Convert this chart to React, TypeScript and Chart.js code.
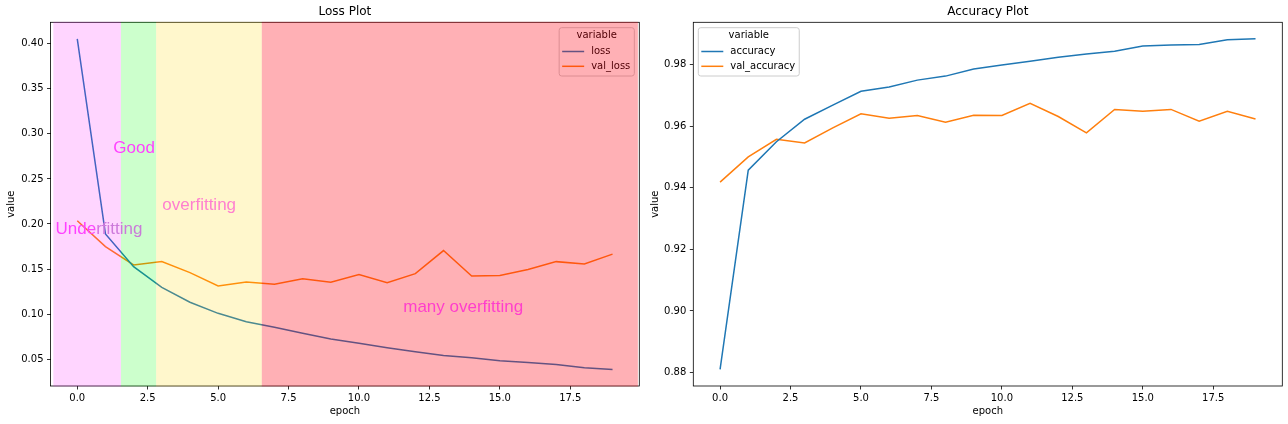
import React, { useEffect, useRef } from "react";
import { Chart, registerables } from "chart.js";

Chart.register(...registerables);

// ---------- data ----------
const epochs = [0, 1, 2, 3, 4, 5, 6, 7, 8, 9, 10, 11, 12, 13, 14, 15, 16, 17, 18, 19];
const loss = [0.4055, 0.189, 0.1526, 0.1297, 0.1131, 0.1008, 0.0915, 0.0853, 0.0786, 0.0722, 0.0675, 0.0626, 0.0581, 0.0541, 0.0515, 0.0481, 0.0463, 0.0441, 0.0403, 0.0385];
const valLoss = [0.2035, 0.1749, 0.1546, 0.1582, 0.146, 0.1312, 0.1357, 0.133, 0.1393, 0.1353, 0.1438, 0.1349, 0.1449, 0.1705, 0.1423, 0.1427, 0.1494, 0.1582, 0.1557, 0.1665];
const accuracy = [0.881, 0.9457, 0.9549, 0.9622, 0.9668, 0.9713, 0.9727, 0.9749, 0.9762, 0.9785, 0.9798, 0.981, 0.9823, 0.9834, 0.9843, 0.986, 0.9863, 0.9865, 0.988, 0.9883];
const valAccuracy = [0.9418, 0.95, 0.9557, 0.9545, 0.9594, 0.964, 0.9625, 0.9634, 0.9612, 0.9635, 0.9634, 0.9674, 0.9631, 0.9578, 0.9654, 0.9648, 0.9654, 0.9616, 0.9648, 0.9623];

const xTicks = [0, 2.5, 5, 7.5, 10, 12.5, 15, 17.5];
const lossYTicks = [0.05, 0.1, 0.15, 0.2, 0.25, 0.3, 0.35, 0.4];
const accYTicks = [0.88, 0.9, 0.92, 0.94, 0.96, 0.98];

const lossSpans = [
  { from: -0.85, to: 1.55, color: "rgba(255,0,255,0.165)" },
  { from: 1.55, to: 2.8, color: "rgba(0,255,0,0.2)" },
  { from: 2.8, to: 6.55, color: "rgba(255,215,0,0.2)" },
  { from: 6.55, to: 19.9, color: "rgba(255,0,15,0.31)" },
];

const lossNotes = [
  { text: "Underfitting", x: -0.77, y: 0.189, color: "grad" },
  { text: "Good", x: 1.28, y: 0.279, color: "#ff42ff" },
  { text: "overfitting", x: 3.02, y: 0.215, color: "#ff80cf" },
  { text: "many overfitting", x: 11.57, y: 0.1026, color: "#ff3fcc" },
];

const BLUE = "#1f77b4";
const ORANGE = "#ff7f0e";
const FONT = '"DejaVu Sans", sans-serif';

function limits(arrs: number[][]) {
  const all = arrs.flat();
  const lo = Math.min(...all);
  const hi = Math.max(...all);
  const pad = (hi - lo) * 0.05;
  return { min: lo - pad, max: hi + pad };
}

type Cfg = {
  title: string;
  series: { label: string; data: number[]; color: string }[];
  yTicks: number[];
  yDigits: number;
  yWidth: number;
  padRight: number;
  legendSide: "left" | "right";
  spans: { from: number; to: number; color: string }[];
  notes: { text: string; x: number; y: number; color: string }[];
};

function makeChart(canvas: HTMLCanvasElement, cfg: Cfg) {
  const lim = limits(cfg.series.map((s) => s.data));
  const tickFont = { family: FONT, size: 10 };

  const framePlugin = {
    id: "frameLegend",
    afterDatasetsDraw(chart: any) {
      const { ctx, chartArea: a } = chart;
      ctx.save();
      // spines
      ctx.strokeStyle = "#000";
      ctx.lineWidth = 0.8;
      ctx.strokeRect(a.left, a.top, a.right - a.left, a.bottom - a.top);
      // legend
      ctx.font = `10px ${FONT}`;
      const maxW = Math.max(...cfg.series.map((s) => ctx.measureText(s.label).width));
      const w = 32 + maxW + 4;
      const h = 48.3;
      const x = cfg.legendSide === "right" ? a.right - 5 - w : a.left + 5;
      const y = a.top + 5.4;
      ctx.beginPath();
      (ctx as any).roundRect(x, y, w, h, 2.5);
      ctx.fillStyle = "rgba(255,255,255,0.8)";
      ctx.fill();
      ctx.strokeStyle = "#cccccc";
      ctx.lineWidth = 1;
      ctx.stroke();
      ctx.fillStyle = "#000";
      ctx.textBaseline = "middle";
      ctx.textAlign = "center";
      ctx.fillText("variable", x + w / 2, y + 8.1);
      ctx.textAlign = "left";
      cfg.series.forEach((s, i) => {
        const ry = y + 23.8 + i * 14.8;
        ctx.strokeStyle = s.color;
        ctx.lineWidth = 1.5;
        ctx.beginPath();
        ctx.moveTo(x + 3, ry);
        ctx.lineTo(x + 25, ry);
        ctx.stroke();
        ctx.fillStyle = "#000";
        ctx.fillText(s.label, x + 32, ry);
      });
      ctx.restore();
    },
    afterDraw(chart: any) {
      const { ctx, chartArea: a, scales } = chart;
      const xs = scales.x;
      const ys = scales.y;
      ctx.save();
      cfg.spans.forEach((sp) => {
        const x0 = xs.getPixelForValue(sp.from);
        const x1 = xs.getPixelForValue(sp.to);
        ctx.fillStyle = sp.color;
        ctx.fillRect(x0, a.top - 0.5, x1 - x0, a.bottom - a.top + 1);
      });
      ctx.font = `17px "Liberation Sans", Arial, sans-serif`;
      ctx.textBaseline = "alphabetic";
      ctx.textAlign = "left";
      cfg.notes.forEach((n) => {
        const px = xs.getPixelForValue(n.x);
        const py = ys.getPixelForValue(n.y);
        if (n.color === "grad") {
          const tw = ctx.measureText(n.text).width;
          const g = ctx.createLinearGradient(px, 0, px + tw, 0);
          g.addColorStop(0, "#ff42ff");
          g.addColorStop(0.43, "#ff42ff");
          g.addColorStop(0.5, "#cf78dc");
          g.addColorStop(1, "#c87bd8");
          ctx.fillStyle = g;
        } else {
          ctx.fillStyle = n.color;
        }
        ctx.fillText(n.text, px, py);
      });
      ctx.restore();
    },
  };

  return new Chart(canvas, {
    type: "line",
    data: {
      datasets: cfg.series.map((s) => ({
        label: s.label,
        data: epochs.map((e, i) => ({ x: e, y: s.data[i] })),
        borderColor: s.color,
        backgroundColor: s.color,
        borderWidth: 1.5,
        pointRadius: 0,
        tension: 0,
        fill: false,
      })),
    },
    options: {
      responsive: false,
      animation: false,
      devicePixelRatio: 1,
      layout: { padding: { left: 0, right: cfg.padRight, top: 0, bottom: 0 } },
      plugins: {
        legend: { display: false },
        tooltip: { enabled: false },
        title: {
          display: true,
          text: cfg.title,
          fullSize: false,
          color: "#000",
          font: { family: FONT, size: 12, weight: "normal" },
          padding: { top: 5, bottom: 2.9 },
        },
      },
      scales: {
        x: {
          type: "linear",
          min: -0.95,
          max: 19.95,
          afterBuildTicks: (s: any) => {
            s.ticks = xTicks.map((v) => ({ value: v }));
          },
          afterFit: (s: any) => {
            s.height = 38;
          },
          ticks: {
            includeBounds: false,
            autoSkip: false,
            maxRotation: 0,
            padding: 2.5,
            color: "#000",
            font: tickFont,
            callback: (v: any) => Number(v).toFixed(1),
          },
          grid: {
            display: true,
            drawOnChartArea: false,
            drawTicks: true,
            tickLength: 3.5,
            tickWidth: 0.8,
            tickColor: "#000",
          },
          border: { display: false },
          title: {
            display: true,
            text: "epoch",
            color: "#000",
            font: tickFont,
            padding: { top: 0, bottom: 7 },
          },
        },
        y: {
          type: "linear",
          min: lim.min,
          max: lim.max,
          afterBuildTicks: (s: any) => {
            s.ticks = cfg.yTicks.map((v) => ({ value: v }));
          },
          afterFit: (s: any) => {
            s.width = cfg.yWidth;
          },
          ticks: {
            includeBounds: false,
            autoSkip: false,
            padding: 3.5,
            color: "#000",
            font: tickFont,
            callback: (v: any) => Number(v).toFixed(cfg.yDigits),
          },
          grid: {
            display: true,
            drawOnChartArea: false,
            drawTicks: true,
            tickLength: 3.5,
            tickWidth: 0.8,
            tickColor: "#000",
          },
          border: { display: false },
          title: {
            display: true,
            text: "value",
            color: "#000",
            font: tickFont,
            padding: { top: 5, bottom: 0 },
          },
        },
      },
    } as any,
    plugins: [framePlugin],
  });
}

export default function App() {
  const lossRef = useRef<HTMLCanvasElement>(null);
  const accRef = useRef<HTMLCanvasElement>(null);

  useEffect(() => {
    const c1 = makeChart(lossRef.current!, {
      title: "Loss Plot",
      series: [
        { label: "loss", data: loss, color: BLUE },
        { label: "val_loss", data: valLoss, color: ORANGE },
      ],
      yTicks: lossYTicks,
      yDigits: 2,
      yWidth: 50.5,
      padRight: 4.7,
      legendSide: "right",
      spans: lossSpans,
      notes: lossNotes,
    });
    const c2 = makeChart(accRef.current!, {
      title: "Accuracy Plot",
      series: [
        { label: "accuracy", data: accuracy, color: BLUE },
        { label: "val_accuracy", data: valAccuracy, color: ORANGE },
      ],
      yTicks: accYTicks,
      yDigits: 2,
      yWidth: 49.3,
      padRight: 5.7,
      legendSide: "left",
      spans: [],
      notes: [],
    });
    return () => {
      c1.destroy();
      c2.destroy();
    };
  }, []);

  return (
    <div
      style={{
        position: "fixed",
        left: 0,
        top: 0,
        width: 1288,
        height: 424,
        background: "#fff",
        overflow: "hidden",
      }}
    >
      <canvas
        ref={lossRef}
        width={644}
        height={424}
        style={{ position: "absolute", left: 0, top: 0, width: 644, height: 424 }}
      />
      <canvas
        ref={accRef}
        width={644}
        height={424}
        style={{ position: "absolute", left: 644, top: 0, width: 644, height: 424 }}
      />
    </div>
  );
}
